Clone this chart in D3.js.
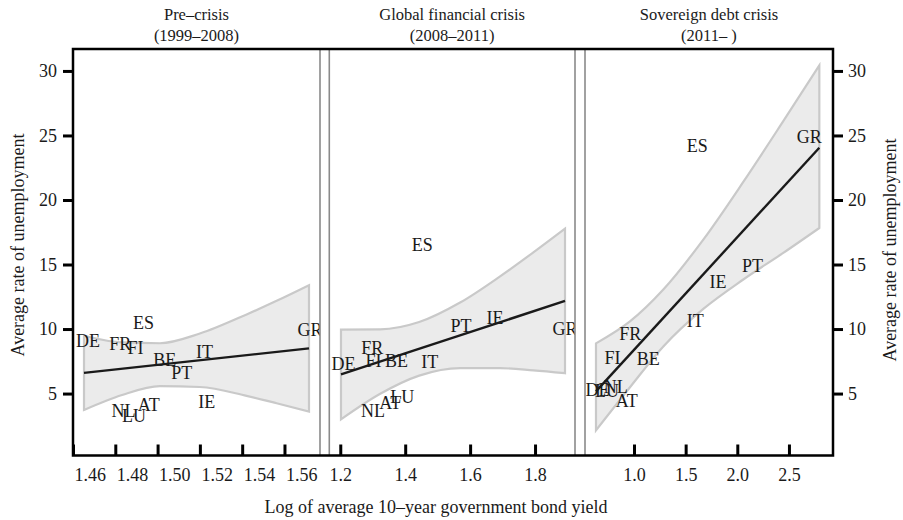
<!DOCTYPE html>
<html><head><meta charset="utf-8">
<script src="https://cdn.jsdelivr.net/npm/d3@7"></script>
<style>
body{margin:0;background:#fff}
svg{display:block}
text{font-family:"Liberation Serif","Times New Roman",serif;fill:#1a1a1a}
</style>
</head><body><svg id="c" width="903" height="520"></svg>
<script>
// ---------- DATA ----------
const countries = ["DE","FR","FI","ES","BE","PT","IT","IE","NL","LU","AT","GR"];
const panelTitles = [["Pre–crisis","(1999–2008)"],["Global financial crisis","(2008–2011)"],["Sovereign debt crisis","(2011– )"]];
const xTitle = "Log of average 10–year government bond yield";
const yTitle = "Average rate of unemployment";
const yTicks = [5,10,15,20,25,30];
const yDomain = [0.2, 31.7];

// Pre-crisis
const preDomain = [1.46, 1.5768];
const preTicks = [1.46,1.48,1.50,1.52,1.54,1.56];
const preYield = [1.4671,1.4824,1.4896,1.4933,1.5034,1.5114,1.5222,1.5232,1.4839,1.4888,1.4958,1.5721];
const preUnemp = [9.11,8.83,8.58,10.47,7.63,6.58,8.23,4.38,3.70,3.31,4.17,9.98];
const preFitX = [1.4652,1.5716];
const preFitY = [6.60,8.50];
const preBandX = [1.4652,1.4832,1.5011,1.5200,1.5421,1.5563,1.5716];
const preBandLo = [3.73,4.89,5.58,5.51,4.82,4.25,3.60];
const preBandHi = [9.48,8.96,8.90,9.65,11.13,12.19,13.40];

// Global financial crisis
const gfcDomain = [1.1662, 1.9231];
const gfcTicks = [1.2,1.4,1.6,1.8];
const gfcYield = [1.2102,1.2985,1.3025,1.4529,1.3729,1.5717,1.4760,1.6769,1.3009,1.3908,1.3538,1.8923];
const gfcUnemp = [7.32,8.54,7.53,16.51,7.53,10.29,7.49,10.91,3.68,4.74,4.28,10.02];
const gfcFitX = [1.2022,1.8923];
const gfcFitY = [6.48,12.18];
const gfcBandX = [1.2022,1.3231,1.4431,1.5692,1.6923,1.7948,1.8923];
const gfcBandLo = [3.00,4.98,6.39,6.97,6.97,6.80,6.58];
const gfcBandHi = [9.95,9.97,10.54,12.05,14.08,15.94,17.78];

// Sovereign debt crisis
const sdcDomain = [0.5257, 2.9264];
const sdcTicks = [1.0,1.5,2.0,2.5];
const sdcYield = [0.647,0.964,0.792,1.613,1.138,2.147,1.593,1.813,0.824,0.739,0.929,2.696];
const sdcUnemp = [5.31,9.67,7.80,24.18,7.72,14.90,10.62,13.68,5.57,5.20,4.42,24.93];
const sdcFitX = [0.632,2.794];
const sdcFitY = [5.17,24.05];
const sdcBandX = [0.632,0.961,1.284,1.671,2.058,2.445,2.794];
const sdcBandLo = [2.15,5.49,8.65,11.56,13.84,15.90,17.83];
const sdcBandHi = [8.89,10.59,13.06,16.93,21.40,26.11,30.43];

// ---------- LAYOUT ----------
const plotTop = 49, plotBottom = 455.5, plotLeft = 73, plotRight = 833;
const panelRanges = [[73,320],[329.3,575],[585,833]];
const FS = 18;

const svg = d3.select("#c");
const y = d3.scaleLinear().domain(yDomain).range([plotBottom, plotTop]);

const panels = [
  {domain: preDomain, ticks: preTicks, xs: preYield, ys: preUnemp, fitX: preFitX, fitY: preFitY, bx: preBandX, lo: preBandLo, hi: preBandHi, fmt: d3.format(".2f"), startLabels: true},
  {domain: gfcDomain, ticks: gfcTicks, xs: gfcYield, ys: gfcUnemp, fitX: gfcFitX, fitY: gfcFitY, bx: gfcBandX, lo: gfcBandLo, hi: gfcBandHi, fmt: d3.format(".1f")},
  {domain: sdcDomain, ticks: sdcTicks, xs: sdcYield, ys: sdcUnemp, fitX: sdcFitX, fitY: sdcFitY, bx: sdcBandX, lo: sdcBandLo, hi: sdcBandHi, fmt: d3.format(".1f")}
];

const defs = svg.append("defs");

panels.forEach((p, i) => {
  const [r0, r1] = panelRanges[i];
  const x = d3.scaleLinear().domain(p.domain).range([r0, r1]);
  defs.append("clipPath").attr("id", "clip" + i)
    .append("rect").attr("x", r0).attr("y", plotTop).attr("width", r1 - r0).attr("height", plotBottom - plotTop);
  const g = svg.append("g").attr("clip-path", `url(#clip${i})`);

  const bandData = p.bx.map((v, k) => ({x: v, lo: p.lo[k], hi: p.hi[k]}));
  const area = d3.area().x(d => x(d.x)).y0(d => y(d.lo)).y1(d => y(d.hi)).curve(d3.curveMonotoneX);
  g.append("path").datum(bandData).attr("d", area)
    .attr("fill", "#ebebeb").attr("stroke", "#c9c9c9").attr("stroke-width", 2.2).attr("stroke-linejoin", "miter");

  const fitData = p.fitX.map((v, k) => ({x: v, y: p.fitY[k]}));
  g.append("path").datum(fitData).attr("d", d3.line().x(d => x(d.x)).y(d => y(d.y)))
    .attr("fill", "none").attr("stroke", "#1a1a1a").attr("stroke-width", 2.4);

  g.selectAll("text.lab").data(countries).join("text").attr("class", "lab")
    .attr("x", (d, k) => x(p.xs[k])).attr("y", (d, k) => y(p.ys[k]))
    .attr("dy", "0.35em").attr("text-anchor", "middle").attr("font-size", FS).text(d => d);

  const ax = svg.append("g").attr("transform", `translate(0,${plotBottom})`)
    .call(d3.axisBottom(x).tickValues(p.ticks).tickFormat(p.fmt).tickSize(-11).tickPadding(13));
  ax.select(".domain").remove();
  ax.selectAll(".tick line").attr("stroke", "#000").attr("stroke-width", 3);
  ax.selectAll(".tick text").attr("font-size", FS).attr("font-family", "Liberation Serif").attr("fill", "#1a1a1a");
  if (p.startLabels) ax.selectAll(".tick text").attr("text-anchor", "start").attr("x", 1);

  const cx = (r0 + r1) / 2;
  svg.append("text").attr("x", cx).attr("y", 20).attr("text-anchor", "middle").attr("font-size", 16.5).text(panelTitles[i][0]);
  svg.append("text").attr("x", cx).attr("y", 41).attr("text-anchor", "middle").attr("font-size", 16.5).text(panelTitles[i][1]);
});

[320, 329.3, 575, 585].forEach(sx => {
  svg.append("line").attr("x1", sx).attr("x2", sx).attr("y1", plotTop).attr("y2", plotBottom)
    .attr("stroke", "#8a8a8a").attr("stroke-width", 1.6);
});

svg.append("path").attr("d", `M${plotLeft},${plotTop}H${plotRight}V${plotBottom}H${plotLeft}Z`)
  .attr("fill", "none").attr("stroke", "#000").attr("stroke-width", 2.5);

const ayl = svg.append("g").attr("transform", `translate(${plotLeft},0)`)
  .call(d3.axisLeft(y).tickValues(yTicks).tickSize(10).tickPadding(6));
const ayr = svg.append("g").attr("transform", `translate(${plotRight},0)`)
  .call(d3.axisRight(y).tickValues(yTicks).tickSize(10).tickPadding(5));
[ayl, ayr].forEach(a => {
  a.select(".domain").remove();
  a.selectAll(".tick line").attr("stroke", "#000").attr("stroke-width", 3);
  a.selectAll(".tick text").attr("font-size", FS).attr("font-family", "Liberation Serif").attr("fill", "#1a1a1a");
});

svg.append("text").attr("x", 436).attr("y", 513).attr("text-anchor", "middle").attr("font-size", FS).text(xTitle);
svg.append("text").attr("transform", "translate(17.5,245) rotate(-90)").attr("dy", "0.35em")
  .attr("text-anchor", "middle").attr("font-size", FS).text(yTitle);
svg.append("text").attr("transform", "translate(890,250) rotate(-90)").attr("dy", "0.35em")
  .attr("text-anchor", "middle").attr("font-size", FS).text(yTitle);
</script>
</body></html>
